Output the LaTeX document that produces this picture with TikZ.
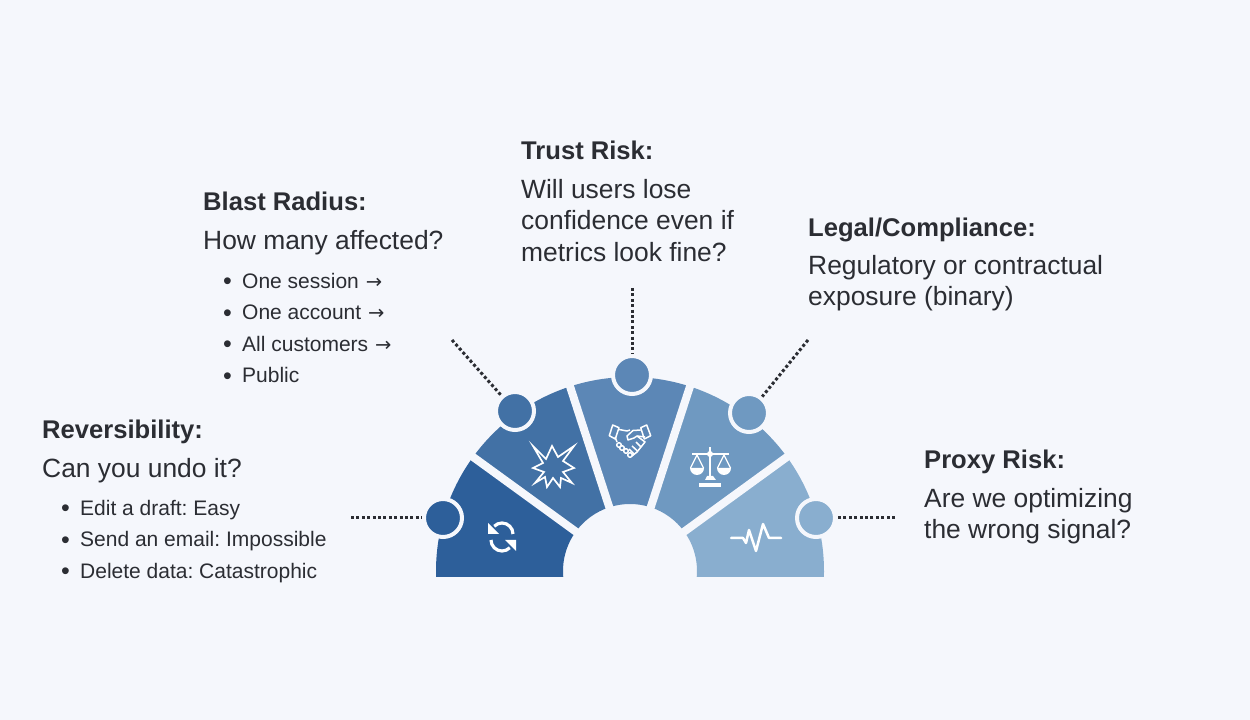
\documentclass[tikz,border=0pt]{standalone}
\usepackage{fontspec}
\setmainfont{Liberation Sans}
\newfontfamily\arrowfont{DejaVu Sans}
\usetikzlibrary{positioning}
\definecolor{pagebg}{HTML}{F5F7FC}
\definecolor{inkc}{HTML}{2B2D33}
\definecolor{segA}{HTML}{2D5F9A}
\definecolor{segB}{HTML}{4271A5}
\definecolor{segC}{HTML}{5C87B6}
\definecolor{segD}{HTML}{6F99C1}
\definecolor{segE}{HTML}{89AECF}
\newcommand{\hubsector}[3]{\fill[#3] (#1:67) arc (#1:#2:67) -- (#2:194) arc (#2:#1:194) -- cycle;}
\newcommand{\bitem}{\makebox[19pt][l]{\raisebox{-1.5pt}{\fontsize{25}{25}\selectfont\textbullet}}}
\newcommand{\nextarrow}{{\fontsize{19.5}{19}\selectfont\arrowfont\hspace{1pt}→}}
\frenchspacing
\begin{document}
\begin{tikzpicture}[x=1pt, y=1pt,
  head/.style={anchor=base west, inner sep=0pt, text=inkc, font=\fontsize{25.6}{31.5}\selectfont\bfseries},
  body/.style={anchor=north west, inner sep=0pt, align=left, text=inkc, font=\fontsize{26.4}{31.5}\selectfont},
  list/.style={anchor=north west, inner sep=0pt, align=left, text=inkc, font=\fontsize{21}{31.5}\selectfont},
  dot/.style={circle, draw=pagebg, line width=4pt, minimum size=38pt, inner sep=0pt, outer sep=0pt},
  lead/.style={inkc, line width=3pt, dash pattern=on 3pt off 2.4pt, shorten >=2pt},
  icon/.style={white, line width=2.5pt, line join=round}]
  \fill[pagebg] (0,0) rectangle (1250,720);
  \useasboundingbox (0,0) rectangle (1250,720);

  % fan
  \begin{scope}
    \clip (400,143) rectangle (860,420);
    \begin{scope}[shift={(630,149)}]
      \hubsector{144}{187}{segA}
      \hubsector{108}{144}{segB}
      \hubsector{72}{108}{segC}
      \hubsector{36}{72}{segD}
      \hubsector{-7}{36}{segE}
      \foreach \ang in {36,72,108,144}
        \draw[pagebg, line width=8pt] (\ang:50) -- (\ang:205);
    \end{scope}
  \end{scope}

  % dots on the rim
  \node[dot, fill=segA] (rev) at (443,202) {};
  \node[dot, fill=segB] (blast) at (515,309) {};
  \node[dot, fill=segC] (trust) at (632,345) {};
  \node[dot, fill=segD] (legal) at (749,307) {};
  \node[dot, fill=segE] (proxy) at (816,202) {};
  \coordinate (revend) at (351,202);
  \coordinate (blastend) at (452,380);
  \coordinate (trustend) at (632,432);
  \coordinate (legalend) at (808,380);
  \coordinate (proxyend) at (895,202);
  \draw[lead] (revend) -- (rev);
  \draw[lead] (blastend) -- (blast);
  \draw[lead] (trustend) -- (trust);
  \draw[lead] (legalend) -- (legal);
  \draw[lead] (proxyend) -- (proxy);

  % sync
  \draw[icon, line width=3.2pt] (513,186) arc (0:135:11);
  \draw[icon, line width=3.2pt] (491,180) arc (180:315:11);
  \fill[white] (488,197) -- (488,186) -- (499,186) -- cycle;
  \fill[white] (516,169) -- (516,180) -- (505,180) -- cycle;

  % burst
  \draw[icon, line width=1.7pt, miter limit=10, line join=miter] (533,274) -- (546,261) -- (552,274) -- (558,263)
    -- (574,274) -- (563,259) -- (574,252) -- (563,248) -- (572,237)
    -- (561,242) -- (560,233) -- (553,242) -- (547,233) -- (545,243)
    -- (535,237) -- (544,248) -- (533,252) -- (543,257) -- cycle;

  % handshake
  \draw[icon, line width=1.5pt] (609.3,284.3) -- (612.7,295) -- (619,292.3) -- (615.3,281) -- cycle;
  \draw[icon, line width=1.5pt] (650.7,284.3) -- (646.7,295) -- (640.7,292.3) -- (644.3,281) -- cycle;
  \draw[icon, line width=1.5pt] (619,290.5) -- (627,289) -- (630,290);
  \draw[icon, line width=1.5pt] (640.7,290) -- (633,289.5) -- (627,284) -- (628,280) -- (634,282) -- (637,284) -- (645,283);
  \draw[icon, line width=1.5pt] (637,284) -- (645,278) -- (637,268) -- (632,264);
  \draw[icon, line width=1.5pt] (641,273) -- (636,278);
  \draw[icon, line width=1.5pt] (637.5,269) -- (632,274);
  \draw[icon, line width=1.5pt] (634,266) -- (629,271);
  \draw[icon, line width=1.5pt] (615,283) -- (617,278);
  \foreach \hx/\hy in {619/275,622/272,626/269,630/265}
    \draw[icon, line width=1.5pt] (\hx,\hy) circle (2.3);

  % scales
  \fill[white] (708.8,244) rectangle (711.2,273);
  \fill[white] (692,265.2) rectangle (729,267);
  \fill[white] (710,266) circle (3);
  \draw[icon, line width=1.2pt] (690.5,252) -- (697,265) -- (703.5,252);
  \draw[icon, line width=1.2pt] (717.5,252) -- (724,265) -- (730.5,252);
  \fill[white] (690,252) arc (180:360:7);
  \fill[white] (717,252) arc (180:360:7);
  \fill[white] (705,240) -- (707,244) -- (713,244) -- (716,240) -- cycle;
  \fill[white] (699,233) rectangle (721,237);

  % pulse
  \draw[icon, line cap=round] (731,182) -- (743,182) -- (746,177) -- (749,190) -- (756,169) -- (763,196) -- (769,182) -- (781,182);

  % labels
  \node[head] (revhead) at (42,281) {Reversibility:};
  \node[body] (revbody) at (42,262) {Can you undo it?};
  \node[list] (revlist) at (61,220) {\bitem Edit a draft: Easy\\\bitem Send an email: Impossible\\\bitem Delete data: Catastrophic};
  \node[head] (blasthead) at (203,509) {Blast Radius:};
  \node[body] (blastbody) at (203,490) {How many affected?};
  \node[list] (blastlist) at (223,447) {\bitem One session \nextarrow\\\bitem One account \nextarrow\\\bitem All customers \nextarrow\\\bitem Public};
  \node[head] (trusthead) at (521,560) {Trust Risk:};
  \node[body] (trustbody) at (521,541) {Will users lose\\confidence even if\\metrics look fine?};
  \node[head] (legalhead) at (808,483) {Legal/Compliance:};
  \node[body] (legalbody) at (808,465) {Regulatory or contractual\\exposure (binary)};
  \node[head] (proxyhead) at (924,251) {Proxy Risk:};
  \node[body] (proxybody) at (924,232) {Are we optimizing\\the wrong signal?};
\end{tikzpicture}
\end{document}
